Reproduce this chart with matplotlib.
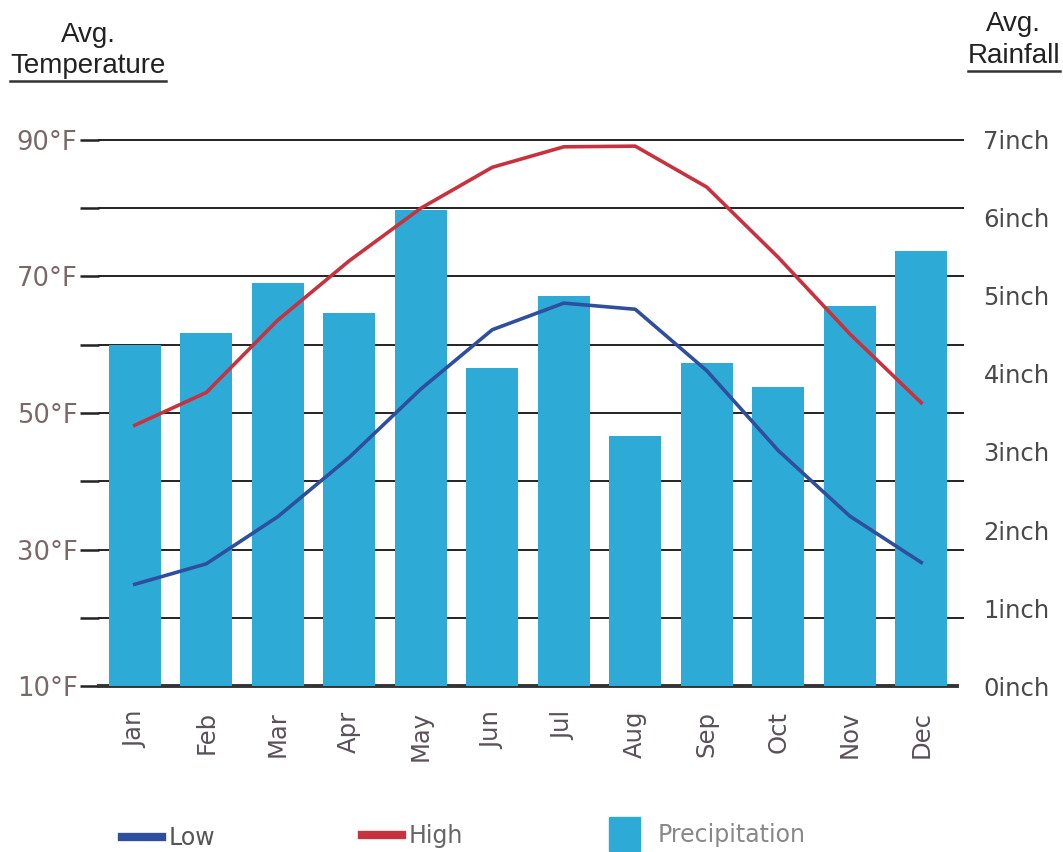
import matplotlib
matplotlib.use("Agg")
import matplotlib.pyplot as plt
from matplotlib.lines import Line2D
from matplotlib.patches import Patch
import numpy as np

plt.rcParams["font.family"] = ["DejaVu Sans"]

months = ["Jan", "Feb", "Mar", "Apr", "May", "Jun", "Jul", "Aug", "Sep", "Oct", "Nov", "Dec"]
low = [24.9, 27.9, 34.8, 43.5, 53.5, 62.2, 66.1, 65.2, 56.2, 44.5, 34.9, 28.1]
high = [48.2, 53.0, 63.6, 72.3, 80.0, 86.0, 89.0, 89.1, 83.1, 72.8, 61.6, 51.5]
precip = [4.37, 4.52, 5.17, 4.78, 6.10, 4.08, 5.00, 3.21, 4.14, 3.83, 4.87, 5.58]
temp_major = [10, 30, 50, 70, 90]
temp_minor = [20, 40, 60, 80]
rain_ticks = [0, 1, 2, 3, 4, 5, 6, 7]

BAR = "#2eaad6"
RED = "#c8323e"
BLUE = "#2f4f9e"
GRID = "#222222"

W, H = 1063, 852
fig = plt.figure(figsize=(W / 100, H / 100), dpi=100)
fig.patch.set_facecolor("white")
ax = fig.add_axes([99 / W, 1 - 686 / H, (957 - 99) / W, (686 - 140) / H])
ax2 = ax.twinx()
ax.set_zorder(0)
ax2.set_zorder(1)
ax2.patch.set_visible(False)

x = np.arange(len(months))

# temperature axis (bottom layer): gridlines, ticks
ax.set_ylim(10, 90)
ax.set_xlim(-0.5, len(months) - 0.5)
for v in temp_major + temp_minor:
    if v != 10:
        ax.axhline(v, xmin=0, xmax=1 + 6 / 858, color=GRID, linewidth=1.4,
                   clip_on=False, zorder=1)
ax.set_yticks(temp_major)
ax.set_yticks(temp_minor, minor=True)
ax.set_yticklabels([f"{v}°F" for v in temp_major])
ax.tick_params(axis="y", which="both", direction="out", length=14, width=1.8,
               color=GRID, pad=1.5, labelsize=18.5, labelcolor="#7a6868")
ax.set_xticks(x)
ax.set_xticklabels(months, rotation=90, fontsize=17.5, color="#5a505a")
ax.tick_params(axis="x", length=0, pad=18)
for s in ["top", "right", "left"]:
    ax.spines[s].set_visible(False)
ax.spines["bottom"].set_linewidth(2.8)
ax.spines["bottom"].set_color("#333333")
ax.spines["bottom"].set_zorder(5)

# rainfall axis (top layer): bars and the temperature lines
ax2.bar(x, precip, width=0.73, color=BAR, zorder=2)
ax2.set_ylim(0, 7)
ax2.set_yticks(rain_ticks)
ax2.set_yticklabels([f"{v}inch" for v in rain_ticks])
ax2.tick_params(axis="y", length=0, pad=19, labelsize=17.5, labelcolor="#4a4a4a")
for s in ["top", "right", "left", "bottom"]:
    ax2.spines[s].set_visible(False)

ax2.plot(x, low, color=BLUE, linewidth=2.6, zorder=3, transform=ax.transData)
ax2.plot(x, high, color=RED, linewidth=2.6, zorder=3, transform=ax.transData)
ax2.set_ylim(0, 7)

# titles
fig.text(88 / W, 1 - 35 / H, "Avg.", ha="center", va="center",
         fontsize=20, family="Liberation Sans", color="#222222")
fig.text(88 / W, 1 - 66 / H, "Temperature", ha="center", va="center",
         fontsize=20, family="Liberation Sans", color="#222222")
fig.add_artist(Line2D([10 / W, 166 / W], [1 - 81 / H, 1 - 81 / H], color="#333333", linewidth=1.8))
fig.text(1013 / W, 1 - 24 / H, "Avg.", ha="center", va="center",
         fontsize=20, family="Liberation Sans", color="#222222")
fig.text(1014 / W, 1 - 56 / H, "Rainfall", ha="center", va="center",
         fontsize=20, family="Liberation Sans", color="#222222")
fig.add_artist(Line2D([968 / W, 1060 / W], [1 - 71 / H, 1 - 71 / H], color="#333333", linewidth=1.8))

# legends
h_low = Line2D([], [], color=BLUE, linewidth=6)
h_high = Line2D([], [], color=RED, linewidth=6)
h_pr = Patch(color=BAR)
common = dict(frameon=False, fontsize=17, borderpad=0, loc="center left")
fig.legend(handles=[h_low], labels=["Low"], bbox_to_anchor=(110 / W, 1 - 838 / H),
           handlelength=1.7, handletextpad=0.3, labelcolor="#555555", **common)
fig.legend(handles=[h_high], labels=["High"], bbox_to_anchor=(350 / W, 1 - 836 / H),
           handlelength=1.7, handletextpad=0.3, labelcolor="#666666", **common)
fig.legend(handles=[h_pr], labels=["Precipitation"], bbox_to_anchor=(597 / W, 1 - 834 / H),
           handlelength=1.3, handleheight=1.9, handletextpad=0.75, labelcolor="#888888",
           **common)

fig.savefig("out.png", dpi=100)
